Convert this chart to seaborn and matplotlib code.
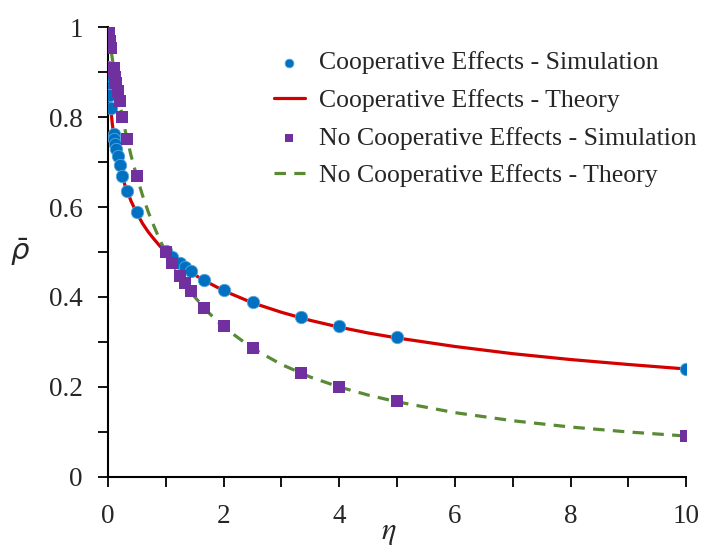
import numpy as np
import pandas as pd
import matplotlib
matplotlib.use("Agg")
import matplotlib.pyplot as plt
import seaborn as sns

# ── Data ────────────────────────────────────────────────────────────────────
# simulation points (eta, mean density)
coop_sim_eta = [0.01, 0.02, 0.025, 0.033, 0.05, 0.1, 0.111, 0.125, 0.143, 0.167,
                0.2, 0.25, 0.333, 0.5, 1.0, 1.111, 1.25, 1.333, 1.429, 1.667,
                2.0, 2.5, 3.333, 4.0, 5.0, 10.0]
coop_sim_rho = [0.912, 0.879, 0.866, 0.849, 0.820, 0.763, 0.752, 0.741, 0.729, 0.713,
                0.694, 0.669, 0.636, 0.588, 0.502, 0.489, 0.475, 0.467, 0.458, 0.438,
                0.416, 0.389, 0.356, 0.335, 0.310, 0.241]

nocoop_sim_eta = [0.01, 0.02, 0.025, 0.033, 0.05, 0.1, 0.111, 0.125, 0.143, 0.167,
                  0.2, 0.25, 0.333, 0.5, 1.0, 1.111, 1.25, 1.333, 1.429, 1.667,
                  2.0, 2.5, 3.333, 4.0, 5.0, 10.0]
nocoop_sim_rho = [0.992, 0.981, 0.976, 0.968, 0.954, 0.910, 0.901, 0.889, 0.876, 0.858,
                  0.835, 0.801, 0.751, 0.668, 0.501, 0.475, 0.446, 0.430, 0.413, 0.376,
                  0.335, 0.287, 0.232, 0.201, 0.168, 0.092]

# theory curves
theory_eta = [0.01, 0.02, 0.03, 0.05, 0.075, 0.1, 0.15, 0.2, 0.25, 0.3, 0.4, 0.5,
              0.6, 0.7, 0.8, 0.9, 1.0, 1.25, 1.5, 1.75, 2.0, 2.5, 3.0, 3.5, 4.0,
              4.5, 5.0, 6.0, 7.0, 8.0, 9.0, 10.0]
coop_theory = [0.909, 0.876, 0.852, 0.817, 0.785, 0.760, 0.721, 0.691, 0.667, 0.646,
               0.613, 0.586, 0.563, 0.544, 0.528, 0.513, 0.500, 0.472, 0.449, 0.431,
               0.414, 0.387, 0.366, 0.348, 0.333, 0.320, 0.309, 0.290, 0.274, 0.261,
               0.250, 0.240]
nocoop_theory = [0.990, 0.980, 0.971, 0.952, 0.930, 0.909, 0.870, 0.833, 0.800, 0.769,
                 0.714, 0.667, 0.625, 0.588, 0.556, 0.526, 0.500, 0.444, 0.400, 0.364,
                 0.333, 0.286, 0.250, 0.222, 0.200, 0.182, 0.167, 0.143, 0.125, 0.111,
                 0.100, 0.091]

x_ticks = [0, 2, 4, 6, 8, 10]
y_ticks = [0, 0.2, 0.4, 0.6, 0.8, 1]
y_ticklabels = ["0", "0.2", "0.4", "0.6", "0.8", "1"]

BLUE = "#0070C0"
PURPLE = "#7030A0"
RED = "#D40000"
GREEN = "#5A8A34"

sns.set_style("white")
plt.rcParams["font.family"] = ["Liberation Serif", "DejaVu Serif"]

fig = plt.figure(figsize=(7.01, 5.48), dpi=100)
ax = fig.add_axes([0.154, 0.1296, 0.825, 0.8211])

sns.lineplot(x=theory_eta, y=coop_theory, ax=ax, color=RED, lw=2.3,
             sort=False, zorder=2, label="Cooperative Effects - Theory")
sns.lineplot(x=theory_eta, y=nocoop_theory, ax=ax, color=GREEN, lw=2.3,
             linestyle=(0, (3.6, 2.6)), sort=False, zorder=2,
             label="No Cooperative Effects - Theory")
sns.scatterplot(x=coop_sim_eta, y=coop_sim_rho, ax=ax, color=BLUE, marker="o",
                s=80, edgecolor="#5aa6dd", linewidth=0.6, zorder=3,
                label="Cooperative Effects - Simulation")
sns.scatterplot(x=nocoop_sim_eta, y=nocoop_sim_rho, ax=ax, color=PURPLE, marker="s",
                s=72, edgecolor=PURPLE, linewidth=0, zorder=4,
                label="No Cooperative Effects - Simulation")

ax.set_xlim(0, 10)
ax.set_ylim(0, 1)
ax.set_xticks(x_ticks)
ax.set_xticks([1, 3, 5, 7, 9], minor=True)
ax.set_yticks(y_ticks)
ax.set_yticklabels(y_ticklabels)
ax.set_yticks([0.1, 0.3, 0.5, 0.7, 0.9], minor=True)
ax.tick_params(which="both", direction="out", length=7, width=1.3, color="black",
               labelsize=19.5, bottom=True, left=True)
ax.tick_params(axis="x", pad=12.5)
ax.tick_params(axis="y", pad=11)
for side in ["top", "right"]:
    ax.spines[side].set_visible(False)
for side in ["left", "bottom"]:
    ax.spines[side].set_color("black")
    ax.spines[side].set_linewidth(1.5)

ax.set_xlabel(r"$\eta$", fontsize=22, math_fontfamily="stix", va="center")
ax.xaxis.set_label_coords(0.486, -0.123)
ax.set_ylabel(r"$\bar{\rho}$", fontsize=21, rotation=0, math_fontfamily="dejavusans",
              va="center", ha="center")
ax.yaxis.set_label_coords(-0.152, 0.5)

h, l = ax.get_legend_handles_labels()
order = ["Cooperative Effects - Simulation", "Cooperative Effects - Theory",
         "No Cooperative Effects - Simulation", "No Cooperative Effects - Theory"]
hd = dict(zip(l, h))
leg = ax.legend([hd[k] for k in order], order, loc="upper left",
                bbox_to_anchor=(0.376, 0.925), bbox_transform=fig.transFigure,
                frameon=False, fontsize=18.5, handlelength=1.2, handletextpad=0.55,
                labelspacing=0.57, markerscale=0.7, borderaxespad=0)

fig.savefig("out.png", dpi=100)
